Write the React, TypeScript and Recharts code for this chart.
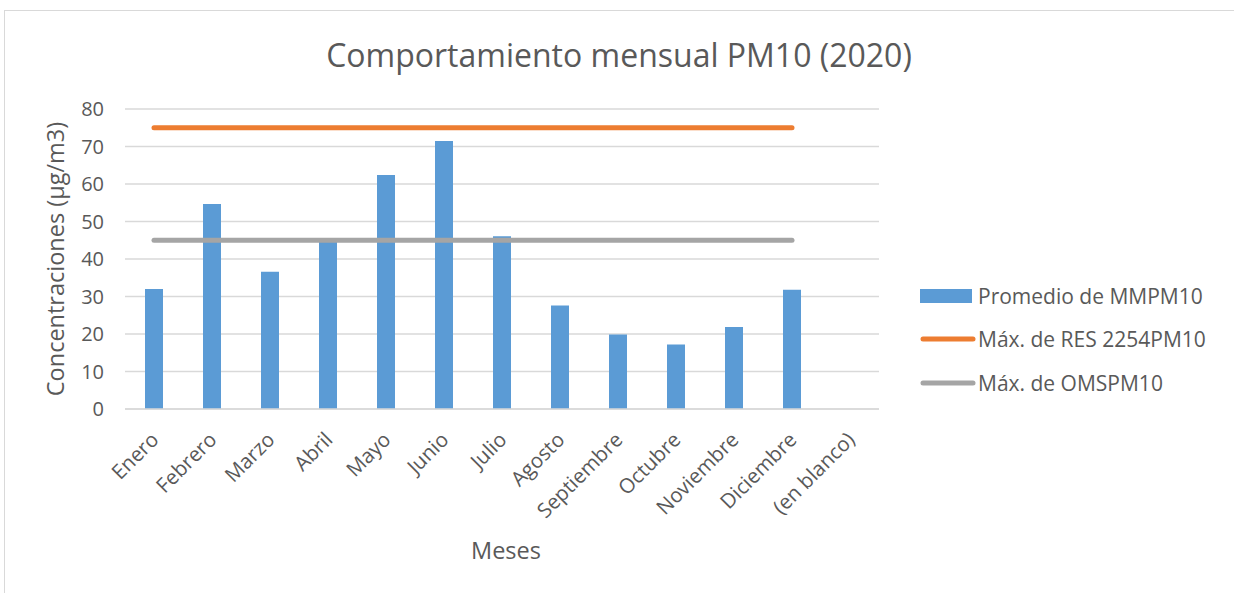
import React from "react";
import {
  ComposedChart, Bar, Line, XAxis, YAxis, CartesianGrid, Legend,
} from "recharts";

const meses = [
  "Enero", "Febrero", "Marzo", "Abril", "Mayo", "Junio", "Julio",
  "Agosto", "Septiembre", "Octubre", "Noviembre", "Diciembre", "(en blanco)",
];
const promedioMM = [32.0, 54.7, 36.6, 44.6, 62.4, 71.5, 46.1, 27.6, 19.9, 17.2, 21.9, 31.8, null];
const maxRes2254 = [75, 75, 75, 75, 75, 75, 75, 75, 75, 75, 75, 75, null];
const maxOms = [45, 45, 45, 45, 45, 45, 45, 45, 45, 45, 45, 45, null];
const yTicks = [0, 10, 20, 30, 40, 50, 60, 70, 80];

const FONT = "'Open Sans', sans-serif";
const TEXT = "#595959";

const data = meses.map((m, i) => ({
  mes: m,
  "Promedio de MMPM10": promedioMM[i],
  "Máx. de RES 2254PM10": maxRes2254[i],
  "Máx. de OMSPM10": maxOms[i],
}));

const XTick = ({ x, y, payload }: { x?: number; y?: number; payload?: { value: string } }) => (
  <g transform={`translate(${(x ?? 0) + 6},${(y ?? 0) + 24})`}>
    <text transform="rotate(-45)" textAnchor="end" fill={TEXT} fontSize={20.5} fontFamily={FONT}>
      {payload?.value}
    </text>
  </g>
);

const YTitle = ({ viewBox }: { viewBox?: { x: number; y: number; width: number; height: number } }) => {
  const cx = 55;
  const cy = (viewBox?.y ?? 0) + (viewBox?.height ?? 0) / 2;
  return (
    <text x={cx} y={cy} transform={`rotate(-90, ${cx}, ${cy})`} textAnchor="middle" dominantBaseline="central"
      fill={TEXT} fontSize={23.5} fontFamily={FONT}>
      Concentraciones (µg/m3)
    </text>
  );
};

const XTitle = ({ viewBox }: { viewBox?: { x: number; y: number; width: number; height: number } }) => {
  const cx = (viewBox?.x ?? 0) + (viewBox?.width ?? 0) / 2 + 4;
  return (
    <text x={cx} y={550} textAnchor="middle" dominantBaseline="central" fill={TEXT} fontSize={23.5} fontFamily={FONT}>
      Meses
    </text>
  );
};

const legendItems = [
  { name: "Promedio de MMPM10", color: "#5B9BD5", type: "bar" },
  { name: "Máx. de RES 2254PM10", color: "#ED7D31", type: "line" },
  { name: "Máx. de OMSPM10", color: "#A5A5A5", type: "line" },
];

const LegendBox = () => (
  <div style={{ fontFamily: FONT, fontSize: 21, color: TEXT }}>
    {legendItems.map((it) => (
      <div key={it.name} style={{ display: "flex", alignItems: "center", height: 43.5 }}>
        <svg width={56} height={16}>
          {it.type === "bar" ? (
            <rect x={0} y={1} width={52} height={14} fill={it.color} />
          ) : (
            <line x1={3} y1={8} x2={53} y2={8} stroke={it.color} strokeWidth={5} strokeLinecap="round" />
          )}
        </svg>
        <span style={{ marginLeft: 2, whiteSpace: "nowrap" }}>{it.name}</span>
      </div>
    ))}
  </div>
);

export default function App() {
  return (
    <div style={{ position: "fixed", left: 0, top: 0, width: 1234, height: 593, background: "#fff", overflow: "hidden" }}>
      <div style={{ position: "absolute", left: 4, top: 10, width: 1240, height: 600, border: "1px solid #d9d9d9" }} />
      <div style={{ position: "absolute", left: 0, top: 33, width: 1234, textAlign: "center", fontFamily: FONT, fontSize: 32, color: TEXT, lineHeight: "44px" }}>
        <span style={{ position: "relative", left: 2 }}>Comportamiento mensual PM10 (2020)</span>
      </div>
      <div style={{ position: "absolute", left: 0, top: 0 }}>
        <ComposedChart width={1234} height={593} data={data} margin={{ top: 109, right: 355, bottom: 54, left: 5 }}>
          <CartesianGrid vertical={false} stroke="#d9d9d9" strokeWidth={1.5} />
          <XAxis
            dataKey="mes"
            interval={0}
            height={130}
            tick={<XTick />}
            tickLine={false}
            axisLine={{ stroke: "#d9d9d9", strokeWidth: 1.5 }}
            label={<XTitle />}
          />
          <YAxis
            width={120}
            domain={[0, 80]}
            ticks={yTicks}
            tickLine={false}
            axisLine={false}
            tickSize={0}
            tickMargin={21}
            tick={{ fill: TEXT, fontSize: 20, fontFamily: FONT }}
            label={<YTitle />}
          />
          <Legend
            layout="vertical"
            align="center"
            verticalAlign="middle"
            content={<LegendBox />}
            wrapperStyle={{ left: 920, top: 274, width: 310 }}
          />
          <Bar dataKey="Promedio de MMPM10" fill="#5B9BD5" barSize={18} isAnimationActive={false} />
          <Line dataKey="Máx. de RES 2254PM10" stroke="#ED7D31" strokeWidth={5} strokeLinecap="round" dot={false} activeDot={false} isAnimationActive={false} />
          <Line dataKey="Máx. de OMSPM10" stroke="#A5A5A5" strokeWidth={5} strokeLinecap="round" dot={false} activeDot={false} isAnimationActive={false} />
        </ComposedChart>
      </div>
    </div>
  );
}
